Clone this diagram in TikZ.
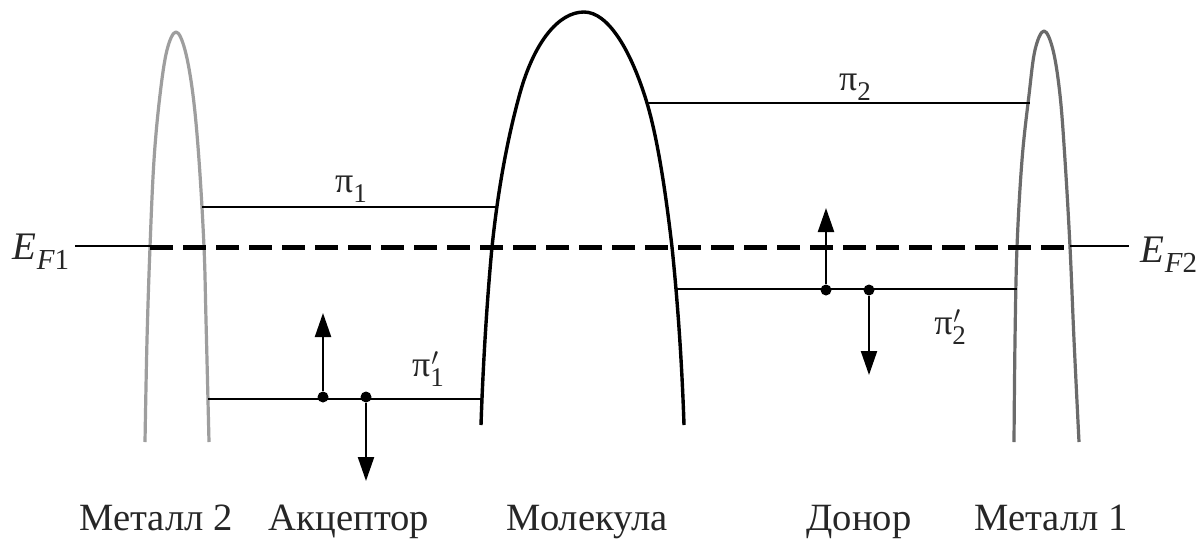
\documentclass[tikz,border=0pt]{standalone}
\usepackage{fontspec}
\setmainfont{Liberation Serif}
\usetikzlibrary{arrows.meta}
\newcommand{\subs}[1]{\raisebox{-0.28em}{\fontsize{27}{27}\selectfont #1}}
\newcommand{\esubs}[1]{\raisebox{-0.28em}{\fontsize{29}{29}\selectfont #1}}
\newcommand{\sups}{\raisebox{0.30em}{\fontsize{27}{27}\selectfont\kern1pt$\prime$}}
\tikzset{
  metal/.style={line width=3.2pt,line join=round},
  mol/.style={draw=black,line width=3.4pt,line join=round},
  level/.style={draw=black,line width=2pt},
  fermi/.style={draw=black,line width=2pt},
  fermidash/.style={draw=black,line width=5pt,dash pattern=on 23pt off 10pt},
  elec/.style={draw=black,line width=2.2pt,-{Triangle[length=24pt,width=16pt]}},
  dot/.style={circle,fill=black,inner sep=0pt,minimum size=11pt},
  lbl/.style={font=\fontsize{38.6}{38.6}\selectfont,inner sep=0pt,text=black!85},
  sym/.style={font=\fontsize{36}{36}\selectfont,inner sep=0pt,text=black!85},
  esym/.style={font=\fontsize{39}{39}\selectfont,inner sep=0pt,text=black!85}
}
\begin{document}
\begin{tikzpicture}[x=1pt,y=-1pt]
\useasboundingbox (0,0) rectangle (1204,539);
\fill[white] (0,0) rectangle (1204,539);
\draw[metal,draw=black!38] plot[smooth,tension=0.6] coordinates {(145,442) (147,340) (150,247) (154,160) (160,95) (167,50) (176,32) (185,50) (193,95) (199,160) (204,247) (206,320) (209,442)};
\draw[metal,draw=black!58] plot[smooth,tension=0.6] coordinates {(1014,442) (1015,340) (1017,247) (1022,160) (1029,95) (1035,50) (1044,31) (1053,50) (1060,95) (1065,160) (1070,247) (1074,340) (1079,442)};
\draw[mol] (481,425) .. controls (483,365) and (487,300) .. (492,247)
  .. controls (498,190) and (507,140) .. (520,93)
  .. controls (534,43) and (558,12) .. (584,12)
  .. controls (608,12) and (631,50) .. (647,103)
  .. controls (658,140) and (666,195) .. (672,247)
  .. controls (678,305) and (682,365) .. (684,425);
\coordinate (p1a) at (202,207); \coordinate (p1b) at (497,207);
\coordinate (p1pa) at (208,399); \coordinate (p1pb) at (482,399);
\coordinate (p2a) at (647,103); \coordinate (p2b) at (1030,103);
\coordinate (p2pa) at (677,289); \coordinate (p2pb) at (1017,289);
\coordinate (fl) at (75,246); \coordinate (fl2) at (150,246);
\coordinate (fd1) at (150,247); \coordinate (fd2) at (1070,247);
\coordinate (fr) at (1070,246); \coordinate (fr2) at (1129,246);
\draw[level] (p1a) -- (p1b);
\draw[level] (p1pa) -- (p1pb);
\draw[level] (p2a) -- (p2b);
\draw[level] (p2pa) -- (p2pb);
\draw[fermi] (fl) -- (fl2);
\draw[fermi] (fr) -- (fr2);
\draw[fermidash] (fd1) -- (fd2);
\node[dot] (a1) at (323,397) {};
\node[dot] (a2) at (366,397) {};
\node[dot] (d1) at (826,290) {};
\node[dot] (d2) at (869,290) {};
\coordinate (a1t) at (323,313); \coordinate (a2t) at (366,481);
\coordinate (d1t) at (826,208); \coordinate (d2t) at (869,375);
\draw[elec] (a1) -- (a1t);
\draw[elec] (a2) -- (a2t);
\draw[elec] (d1) -- (d1t);
\draw[elec] (d2) -- (d2t);
\node[sym,anchor=base] (t1) at (351,192) {π\subs{1}};
\node[sym,anchor=base] (t2) at (855,90) {π\subs{2}};
\node[sym,anchor=base] (t3) at (428,376) {π\sups\kern-8pt\subs{1}};
\node[sym,anchor=base] (t4) at (950,334) {π\sups\kern-8pt\subs{2}};
\node[esym,anchor=base] (e1) at (41,259) {\itshape E\esubs{F\upshape 1}};
\node[esym,anchor=base] (e2) at (1169,262) {\itshape E\esubs{F\upshape 2}};
\node[lbl,anchor=base] (m2) at (156,530) {Металл 2};
\node[lbl,anchor=base] (ac) at (349,530) {Акцептор};
\node[lbl,anchor=base] (mo) at (587,530) {Молекула};
\node[lbl,anchor=base] (do) at (859,530) {Донор};
\node[lbl,anchor=base] (m1) at (1051,530) {Металл 1};
\end{tikzpicture}
\end{document}
